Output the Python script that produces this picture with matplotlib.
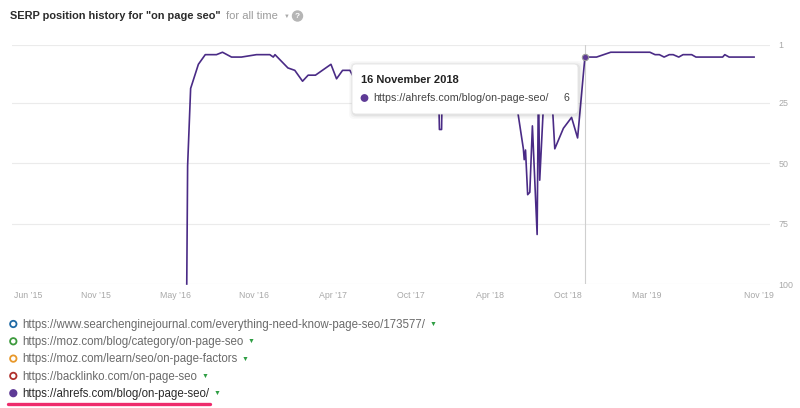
import matplotlib
matplotlib.use("Agg")
import matplotlib.pyplot as plt
from matplotlib.patches import FancyBboxPatch, Circle
from matplotlib.transforms import IdentityTransform
from matplotlib.lines import Line2D
import pandas as pd

plt.rcParams['font.family'] = ['Liberation Sans', 'DejaVu Sans']

W, H = 800, 408

# SERP position of https://ahrefs.com/blog/on-page-seo/ (1 = top)
dates = [
    '2016-05-05', '2016-05-07', '2016-05-14', '2016-06-01', '2016-06-17',
    '2016-07-13', '2016-07-27', '2016-08-17', '2016-09-09', '2016-10-14',
    '2016-11-14', '2016-11-22', '2016-11-26', '2016-12-26', '2017-01-11',
    '2017-01-29', '2017-02-11', '2017-02-28', '2017-04-05', '2017-04-18',
    '2017-05-02', '2017-05-19', '2017-05-25', '2017-06-11', '2017-07-09',
    '2017-08-08', '2017-09-07', '2017-10-10', '2017-11-09', '2017-12-10',
    '2017-12-13', '2017-12-18', '2017-12-20', '2018-01-18', '2018-02-17',
    '2018-03-17', '2018-04-14', '2018-05-09', '2018-05-30', '2018-06-09',
    '2018-06-26', '2018-06-28', '2018-07-01', '2018-07-06', '2018-07-11',
    '2018-07-17', '2018-07-28', '2018-07-31', '2018-08-03', '2018-08-15',
    '2018-08-29', '2018-09-07', '2018-09-27', '2018-10-16', '2018-10-30',
    '2018-11-16', '2018-11-27', '2018-12-13', '2019-01-15', '2019-04-16',
    '2019-04-28', '2019-05-08', '2019-05-19', '2019-05-31', '2019-06-09',
    '2019-06-22', '2019-07-02', '2019-07-22', '2019-08-01', '2019-10-02',
    '2019-10-07', '2019-10-17', '2019-12-14',
]
positions = [
    100, 51, 19, 9, 5,
    5, 4, 6, 6, 5,
    5, 6, 5, 10.5, 11.5,
    16, 13.5, 13.5, 9, 15,
    11.5, 11.5, 13.5, 12, 14,
    11, 13, 11, 12, 11,
    36, 36, 11, 13, 11,
    14, 12, 15, 20, 24,
    44, 48.5, 44.5, 63, 62,
    34.5, 79.5, 16, 57, 14,
    15, 44, 35.5, 31, 39.5,
    6, 6, 6, 4, 4,
    5, 5, 6, 5, 5,
    6, 5, 5, 6, 6,
    5, 6, 6,
]

y_ticks = [1, 25, 50, 75, 100]
x_tick_dates = ['2015-05-02', '2015-10-07', '2016-04-08', '2016-10-08',
                '2017-04-10', '2017-10-08', '2018-04-09', '2018-10-08',
                '2019-04-09', '2019-12-25']
x_tick_labels = ["Jun \u201915", "Nov \u201915", "May \u201916", "Nov \u201916",
                 "Apr \u201917", "Oct \u201917", "Apr \u201918", "Oct \u201918",
                 "Mar \u201919", "Nov \u201919"]
x_range = ['2015-03-26', '2020-01-20']

hover_date = '2018-11-16'
hover_pos = 6
hover_url = 'https://ahrefs.com/blog/on-page-seo/'

legend_urls = [
    'https://www.searchenginejournal.com/everything-need-know-page-seo/173577/',
    'https://moz.com/blog/category/on-page-seo',
    'https://moz.com/learn/seo/on-page-factors',
    'https://backlinko.com/on-page-seo',
    'https://ahrefs.com/blog/on-page-seo/',
]
legend_colors = ['#1f6aa5', '#3d9a3d', '#e8982a', '#b0302c', '#5e3a96']

line_color = '#4a2b86'
grid_color = '#ebebeb'
label_color = '#a8a8a8'
green = '#2f9e44'


def fx(x):
    return x / W


def fy(y):
    return 1 - y / H


fig = plt.figure(figsize=(W / 100, H / 100), dpi=100)
ax = fig.add_axes([fx(12), fy(284), (770 - 12) / W, (284 - 45) / H])

x = pd.to_datetime(dates)
ax.plot(x, positions, color=line_color, lw=1.2, clip_on=False, zorder=3)

hx = pd.Timestamp(hover_date)
ax.axvline(hx, color='#cfcfcf', lw=0.8, zorder=2)
ax.plot([hx], [hover_pos], marker='o', ms=4.5, mfc='#5e3a96', mec='#9a9a9a',
        mew=0.8, zorder=4, clip_on=False)

ax.set_ylim(100, 1)
ax.set_xlim(pd.Timestamp(x_range[0]), pd.Timestamp(x_range[1]))
ax.set_yticks(y_ticks)
ax.set_xticks(pd.to_datetime(x_tick_dates))
ax.set_xticklabels(x_tick_labels)
ax.yaxis.tick_right()
ax.tick_params(axis='y', length=0, pad=6, labelsize=6.4, labelcolor=label_color)
ax.tick_params(axis='x', length=0, pad=5, labelsize=6.3, labelcolor=label_color)
for lbl in ax.get_yticklabels():
    lbl.set_horizontalalignment('left')
ax.grid(axis='y', color=grid_color, lw=0.8)
ax.grid(axis='x', visible=False)
for s in ax.spines.values():
    s.set_visible(False)

# header
fig.text(fx(10), fy(16), 'SERP position history for "on page seo"',
         weight='bold', size=7.9, color='#2b2b2b', va='center')
fig.text(fx(226), fy(16), 'for all time', size=8.1, color='#9c9c9c', va='center')
fig.text(fx(283.5), fy(16), '\u25BC', size=4.2, color='#aaaaaa', va='center')
fig.add_artist(Circle((297.5, H - 16), 5, transform=IdentityTransform(),
                      color='#b5b5b5', zorder=5))
fig.text(fx(297.5), fy(16), '?', size=6, weight='bold', color='white',
         ha='center', va='center', zorder=6)

# tooltip
bx, by, bw, bh = 352, 64, 226, 50
for off, a in [(4, 0.025), (2.5, 0.035), (1.2, 0.05)]:
    fig.add_artist(FancyBboxPatch((bx - off + 1, H - by - bh - off - 1), bw + 2 * off, bh + 2 * off,
                                  boxstyle='round,pad=0,rounding_size=5',
                                  transform=IdentityTransform(), fc='black', ec='none',
                                  alpha=a, zorder=9))
fig.add_artist(FancyBboxPatch((bx, H - by - bh), bw, bh,
                              boxstyle='round,pad=0,rounding_size=4',
                              transform=IdentityTransform(), fc='white', ec='#e4e4e4',
                              lw=0.6, zorder=10))
fig.text(fx(361), fy(80), f"{hx.day} {hx.strftime('%B %Y')}", weight='bold',
         size=8, color='#222222', va='center', zorder=11)
fig.add_artist(Circle((364.5, H - 98), 3.2, transform=IdentityTransform(),
                      color='#5e3a96', zorder=11))
fig.text(fx(373), fy(98), hover_url, size=7.7, color='#444444', va='center', zorder=11)
fig.text(fx(569), fy(98), str(hover_pos), size=7.7, color='#444444', va='center',
         ha='right', zorder=11)

# legend
row_texts = []
for i, (url, col) in enumerate(zip(legend_urls, legend_colors)):
    y = 324 + i * 17.3
    last = i == len(legend_urls) - 1
    fig.add_artist(Circle((13.3, H - y), 3.2, transform=IdentityTransform(),
                          fc=col if last else 'white', ec=col, lw=1.3, zorder=5))
    t = fig.text(fx(22.5), fy(y + 0.8), url, size=8.3,
                 color='#2a2a2a' if last else '#6a6a6a', va='center')
    row_texts.append((t, y))

fig.canvas.draw()
renderer = fig.canvas.get_renderer()
for t, y in row_texts:
    bb = t.get_window_extent(renderer)
    fig.text((bb.x1 + 4) / W, fy(y + 0.5), '\u25BC', size=5, color=green, va='center')

last_bb = row_texts[-1][0].get_window_extent(renderer)
fig.add_artist(Line2D([8, last_bb.x1], [H - 404.3, H - 404.3],
                      transform=IdentityTransform(), color='#ee2c6c', lw=2.4,
                      solid_capstyle='round', zorder=5))

fig.savefig('out.png', dpi=100, facecolor='white')
